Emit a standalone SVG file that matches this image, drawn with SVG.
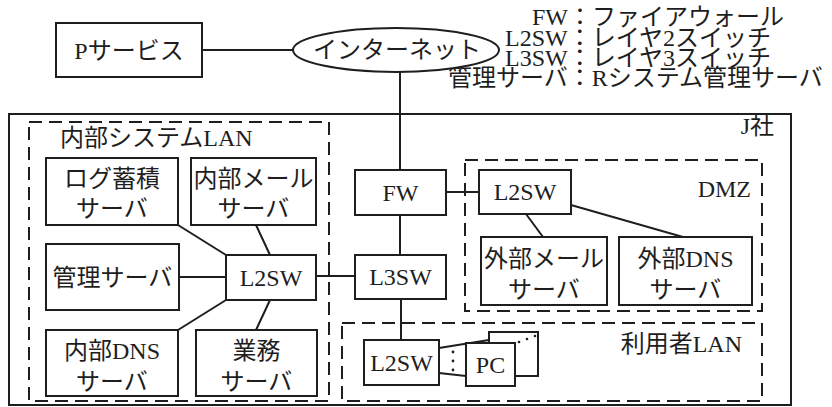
<svg xmlns="http://www.w3.org/2000/svg" width="832" height="407" viewBox="0 0 832 407">
<style>
text{font-family:"Liberation Serif","Noto Sans CJK JP",serif;font-size:24px;fill:#1e1e1e}
.c{text-anchor:middle}
.e{text-anchor:end}
.box{fill:#fff;stroke:#1e1e1e;stroke-width:2}
.zone{fill:none;stroke:#1e1e1e;stroke-width:2;stroke-dasharray:13 7}
.ln{stroke:#1e1e1e;stroke-width:2;fill:none}
</style>
<rect width="832" height="407" fill="#fff"/>
<g id="legend">
<text x="532" y="25">FW：ファイアウォール</text>
<text x="505" y="46">L2SW：レイヤ2スイッチ</text>
<text x="505" y="66">L3SW：レイヤ3スイッチ</text>
<text x="448" y="86">管理サーバ：Rシステム管理サーバ</text>
</g>
<g id="jsha">
<rect class="box" x="9" y="114" width="782" height="291"/>
<text class="e" x="774" y="134">J社</text>
</g>
<g id="internal-lan">
<rect class="zone" x="29" y="122" width="300" height="279"/>
<text x="60" y="146">内部システムLAN</text>
</g>
<g id="dmz">
<rect class="zone" x="465" y="160" width="297" height="151"/>
<text class="e" x="751" y="197">DMZ</text>
</g>
<g id="user-lan">
<rect class="zone" x="342" y="323" width="420" height="78"/>
<text class="e" x="742" y="352">利用者LAN</text>
</g>
<g id="connectors">
<line class="ln" x1="202" y1="50" x2="293" y2="50"/>
<line class="ln" x1="400" y1="72" x2="400" y2="170"/>
<line class="ln" x1="400" y1="215" x2="400" y2="255"/>
<line class="ln" x1="446" y1="192" x2="479" y2="192"/>
<line class="ln" x1="316" y1="276" x2="355" y2="276"/>
<line class="ln" x1="401" y1="299" x2="401" y2="340"/>
<line class="ln" x1="179" y1="277" x2="226" y2="277"/>
<line class="ln" x1="178" y1="225" x2="226" y2="255"/>
<line class="ln" x1="256" y1="225" x2="270" y2="255"/>
<line class="ln" x1="178" y1="330" x2="226" y2="300"/>
<line class="ln" x1="256" y1="330" x2="270" y2="300"/>
<line class="ln" x1="526" y1="214" x2="543" y2="237"/>
<line class="ln" x1="571" y1="205" x2="683" y2="237"/>
<line class="ln" x1="439" y1="348" x2="489" y2="340"/>
<line class="ln" x1="439" y1="373" x2="466" y2="376"/>
<circle cx="453" cy="352" r="1.4" fill="#1e1e1e"/>
<circle cx="453" cy="361" r="1.4" fill="#1e1e1e"/>
<circle cx="453" cy="370" r="1.4" fill="#1e1e1e"/>
</g>
<g id="p-service">
<rect class="box" x="56" y="23" width="146" height="54"/>
<text class="c" x="129" y="59">Pサービス</text>
</g>
<g id="internet">
<ellipse class="box" cx="396" cy="50" rx="103" ry="22"/>
<text class="c" x="397" y="58">インターネット</text>
</g>
<g id="log-server">
<rect class="box" x="46" y="158" width="132" height="67"/>
<text class="c" x="112" y="187">ログ蓄積</text>
<text class="c" x="112" y="217">サーバ</text>
</g>
<g id="internal-mail">
<rect class="box" x="191" y="158" width="125" height="67"/>
<text class="c" x="253.5" y="187">内部メール</text>
<text class="c" x="253.5" y="217">サーバ</text>
</g>
<g id="mgmt-server">
<rect class="box" x="46" y="244" width="133" height="66"/>
<text class="c" x="112.5" y="286">管理サーバ</text>
</g>
<g id="l2sw-internal">
<rect class="box" x="226" y="255" width="90" height="45"/>
<text class="c" x="271" y="286">L2SW</text>
</g>
<g id="internal-dns">
<rect class="box" x="46" y="330" width="132" height="66"/>
<text class="c" x="112" y="359">内部DNS</text>
<text class="c" x="112" y="390">サーバ</text>
</g>
<g id="business-server">
<rect class="box" x="196" y="330" width="121" height="66"/>
<text class="c" x="256.5" y="359">業務</text>
<text class="c" x="256.5" y="390">サーバ</text>
</g>
<g id="fw">
<rect class="box" x="355" y="170" width="91" height="45"/>
<text class="c" x="400.5" y="201">FW</text>
</g>
<g id="l3sw">
<rect class="box" x="355" y="255" width="91" height="44"/>
<text class="c" x="400.5" y="285">L3SW</text>
</g>
<g id="l2sw-dmz">
<rect class="box" x="479" y="170" width="92" height="44"/>
<text class="c" x="525" y="200">L2SW</text>
</g>
<g id="external-mail">
<rect class="box" x="481" y="237" width="126" height="68"/>
<text class="c" x="544" y="267">外部メール</text>
<text class="c" x="544" y="298">サーバ</text>
</g>
<g id="external-dns">
<rect class="box" x="619" y="237" width="133" height="68"/>
<text class="c" x="685.5" y="267">外部DNS</text>
<text class="c" x="685.5" y="298">サーバ</text>
</g>
<g id="l2sw-user">
<rect class="box" x="364" y="340" width="75" height="45"/>
<text class="c" x="401.5" y="371">L2SW</text>
</g>
<g id="pc">
<rect class="box" x="489" y="332" width="49" height="44"/>
<circle cx="519" cy="342" r="1.3" fill="#1e1e1e"/>
<circle cx="527" cy="339" r="1.3" fill="#1e1e1e"/>
<circle cx="535" cy="336" r="1.3" fill="#1e1e1e"/>
<rect class="box" x="466" y="343" width="49" height="43"/>
<text class="c" x="490.5" y="373">PC</text>
</g>
</svg>
